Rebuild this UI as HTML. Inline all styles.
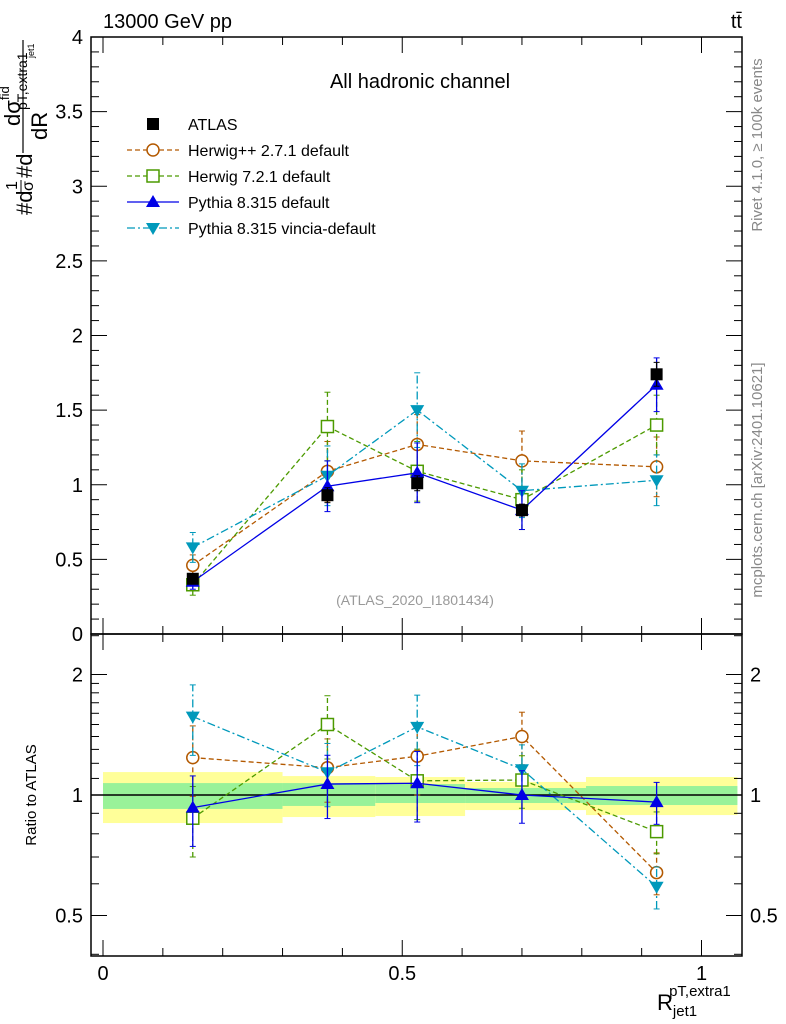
<!DOCTYPE html>
<html><head><meta charset="utf-8"><style>
body{margin:0;background:#fff}
svg{display:block;font-family:"Liberation Sans",sans-serif}
</style></head><body>
<svg id="c" width="786" height="1024" viewBox="0 0 786 1024"></svg>
<script>
const xs=[0.15,0.375,0.525,0.7,0.925];
const atlas=[0.37,0.93,1.01,0.83,1.74];
const atlasErr=[0.03,0.05,0.05,0.04,0.08];
const hpp=[0.46,1.09,1.27,1.16,1.12];
const hppErr=[0.07,0.2,0.2,0.2,0.2];
const h7=[0.33,1.39,1.09,0.90,1.40];
const h7Err=[0.07,0.23,0.2,0.2,0.2];
const py=[0.35,0.99,1.08,0.83,1.67];
const pyErr=[0.05,0.17,0.2,0.13,0.18];
const vin=[0.58,1.06,1.50,0.96,1.03];
const vinErr=[0.1,0.2,0.25,0.18,0.17];
const rHpp=[1.24,1.17,1.25,1.40,0.64];
const rH7=[0.875,1.50,1.085,1.09,0.81];
const rPy=[0.93,1.065,1.07,1.0,0.96];
const rVin=[1.57,1.14,1.48,1.16,0.59];
const rErrFrac=[0.2,0.18,0.2,0.15,0.12];
const binEdges=[0,0.3,0.455,0.605,0.807,1.06];
const yelLo=[0.851,0.881,0.886,0.917,0.891];
const yelHi=[1.141,1.115,1.109,1.078,1.109];
const grnLo=[0.923,0.939,0.955,0.955,0.944];
const grnHi=[1.071,1.071,1.065,1.041,1.053];
const mainTicks=[0,0.5,1,1.5,2,2.5,3,3.5,4];
const ratioTicks=[0.5,1,2];
const xTicks=[0,0.5,1];

const S=document.getElementById('c'),NS='http://www.w3.org/2000/svg';
function mk(t,a,p){const e=document.createElementNS(NS,t);for(const k in a)e.setAttribute(k,a[k]);(p||S).appendChild(e);return e;}
const L=91,R=742,T=37,MB=634,RB=956;
const X=v=>103+v*598.5;
const Y=v=>634-v*149.25;
const YR=v=>795-Math.log2(v)*120.5;

for(let i=0;i<5;i++){
 const b=mk('rect',{x:X(binEdges[i]),y:YR(yelHi[i]),width:X(binEdges[i+1])-X(binEdges[i]),height:YR(yelLo[i])-YR(yelHi[i]),fill:'#ffff99'});
 
 
 const g=mk('rect',{x:X(binEdges[i]),y:YR(grnHi[i]),width:X(binEdges[i+1])-X(binEdges[i]),height:YR(grnLo[i])-YR(grnHi[i]),fill:'#99f299'});
 
 
}
mk('line',{x1:L,x2:R,y1:YR(1),y2:YR(1),stroke:'#000','stroke-width':1.5});

mk('rect',{x:L,y:T,width:R-L,height:MB-T,fill:'none',stroke:'#000','stroke-width':1.5});
mk('rect',{x:L,y:MB,width:R-L,height:RB-MB,fill:'none',stroke:'#000','stroke-width':1.5});

for(let v=0;v<=4.0001;v+=0.1){const maj=Math.abs(v*2-Math.round(v*2))<1e-6;const l=maj?16:8;const y=Y(v);
 mk('line',{x1:L,x2:L+l,y1:y,y2:y,stroke:'#000'});mk('line',{x1:R,x2:R-l,y1:y,y2:y,stroke:'#000'});}
mainTicks.forEach(v=>{const t=mk('text',{x:L-8,y:Y(v)+7,'text-anchor':'end','font-size':20});t.textContent=String(v);
 });
[0.4,0.5,0.6,0.7,0.8,0.9,1,1.1,1.2,1.3,1.4,1.5,1.6,1.7,1.8,1.9,2,2.5].forEach(v=>{const maj=ratioTicks.includes(v);const l=maj?16:8;const y=YR(v);if(y<MB||y>RB)return;
 mk('line',{x1:L,x2:L+l,y1:y,y2:y,stroke:'#000'});mk('line',{x1:R,x2:R-l,y1:y,y2:y,stroke:'#000'});});
ratioTicks.forEach(v=>{const t=mk('text',{x:L-8,y:YR(v)+7,'text-anchor':'end','font-size':20});t.textContent=String(v);
 
 const t2=mk('text',{x:R+8,y:YR(v)+7,'font-size':20});t2.textContent=String(v);
 });
for(let v=0;v<=1.05;v+=0.1){const maj=xTicks.some(t=>Math.abs(t-v)<1e-6);const l=maj?16:8;const x=X(v);
 mk('line',{x1:x,x2:x,y1:MB,y2:MB-l,stroke:'#000'});mk('line',{x1:x,x2:x,y1:MB,y2:MB+l,stroke:'#000'});
 mk('line',{x1:x,x2:x,y1:RB,y2:RB-l,stroke:'#000'});mk('line',{x1:x,x2:x,y1:T,y2:T+l,stroke:'#000'});}
xTicks.forEach(v=>{const t=mk('text',{x:X(v),y:980,'text-anchor':'middle','font-size':20});t.textContent=String(v);
 });

function marker(type,x,y,col,g){
 if(type==='sq')mk('rect',{x:x-6,y:y-6,width:12,height:12,fill:'#000'},g);
 if(type==='osq')mk('rect',{x:x-6,y:y-6,width:12,height:12,fill:'#fff',stroke:col,'stroke-width':1.5},g);
 if(type==='circ')mk('circle',{cx:x,cy:y,r:6,fill:'#fff',stroke:col,'stroke-width':1.5},g);
 if(type==='tri')mk('polygon',{points:`${x},${y-7} ${x-7},${y+5} ${x+7},${y+5}`,fill:col},g);
 if(type==='itri')mk('polygon',{points:`${x},${y+7} ${x-7},${y-5} ${x+7},${y-5}`,fill:col},g);
}
function series(name,vals,errs,yf,col,dash,type,line){
 const g=mk('g',{});
 
 
 if(line)mk('polyline',{points:vals.map((v,i)=>X(xs[i])+','+yf(v)).join(' '),fill:'none',stroke:col,'stroke-width':1.3,'stroke-dasharray':dash},g);
 vals.forEach((v,i)=>{const x=X(xs[i]);
  const lo=yf(v-errs[i]),hi=yf(v+errs[i]);
  mk('line',{x1:x,x2:x,y1:lo,y2:hi,stroke:col,'stroke-width':1.3,'stroke-dasharray':dash},g);
  mk('line',{x1:x-3,x2:x+3,y1:lo,y2:lo,stroke:col},g);mk('line',{x1:x-3,x2:x+3,y1:hi,y2:hi,stroke:col},g);
  marker(type,x,yf(v),col,g);});
}
const cHpp='#b35900',cH7='#4c9a00',cPy='#0000e6',cVin='#0099bb';
series('herwigpp-series',hpp,hppErr,Y,cHpp,'5,3','circ',true);
series('herwig7-series',h7,h7Err,Y,cH7,'5,3','osq',true);
series('vincia-series',vin,vinErr,Y,cVin,'8,3,2,3','itri',true);
series('pythia-series',py,pyErr,Y,cPy,'','tri',true);
series('atlas-series',atlas,atlasErr,Y,'#000','','sq',false);
const re=(a)=>a.map((v,i)=>v*rErrFrac[i]);
series('herwigpp-ratio',rHpp,re(rHpp),YR,cHpp,'5,3','circ',true);
series('herwig7-ratio',rH7,re(rH7),YR,cH7,'5,3','osq',true);
series('vincia-ratio',rVin,re(rVin),YR,cVin,'8,3,2,3','itri',true);
series('pythia-ratio',rPy,re(rPy),YR,cPy,'','tri',true);

const leg=[['ATLAS','#000','','sq'],['Herwig++ 2.7.1 default',cHpp,'5,3','circ'],['Herwig 7.2.1 default',cH7,'5,3','osq'],['Pythia 8.315 default',cPy,'','tri'],['Pythia 8.315 vincia-default',cVin,'8,3,2,3','itri']];
leg.forEach((e,i)=>{const y=124+i*26;const g=mk('g',{});
 
 
 if(i>0)mk('line',{x1:127,x2:179,y1:y,y2:y,stroke:e[1],'stroke-width':1.3,'stroke-dasharray':e[2]},g);
 marker(e[3],153,y,e[1],g);
 const t=mk('text',{x:188,y:y+6,'font-size':16},g);t.textContent=e[0];});

function txt(s,a,name,p){const t=mk('text',a,p);t.textContent=s;return t;}
txt('13000 GeV pp',{x:103,y:28,'font-size':20},'energy-label');
txt('tt̄',{x:742,y:28,'font-size':20,'text-anchor':'end'},'process-label');
txt('All hadronic channel',{x:420,y:88,'font-size':20,'text-anchor':'middle'},'plot-title');
txt('(ATLAS_2020_I1801434)',{x:415,y:605,'font-size':14,'text-anchor':'middle',fill:'#999'},'analysis-id');
txt('Rivet 4.1.0, ≥ 100k events',{x:762,y:145,'font-size':15,fill:'#888','text-anchor':'middle',transform:'rotate(-90 762 145)'},'rivet-label');
txt('mcplots.cern.ch [arXiv:2401.10621]',{x:762,y:480,'font-size':15,fill:'#888','text-anchor':'middle',transform:'rotate(-90 762 480)'},'mcplots-label');
txt('Ratio to ATLAS',{x:36,y:795,'font-size':15,'text-anchor':'middle',transform:'rotate(-90 36 795)'},'ratio-y-title');

// y axis title: rotated group, (u,v) -> (v,-u)
const yg=mk('g',{transform:'rotate(-90)'});


txt('#d',{x:-215,y:32,'font-size':22},'y-title-hash-d',yg);
txt('1',{x:-190,y:17,'font-size':16},'y-title-one',yg);
mk('line',{x1:-192,x2:-180,y1:21,y2:21,stroke:'#000'},yg);
txt('σ',{x:-191,y:33,'font-size':16},'y-title-sigma',yg);
txt('#d',{x:-178,y:32,'font-size':22},'y-title-hash-d2',yg);
mk('line',{x1:-153,x2:-40,y1:23,y2:23,stroke:'#000','stroke-width':1.2},yg);
txt('dσ',{x:-126,y:20,'font-size':22},'y-title-dsigma',yg);
txt('fid',{x:-100,y:9,'font-size':13},'y-title-fid',yg);
txt('pT,extra1',{x:-110,y:27,'font-size':14},'y-title-sub',yg);
txt('jet1',{x:-58,y:34,'font-size':9},'y-title-jet1',yg);
txt('dR',{x:-140,y:47,'font-size':22},'y-title-dR',yg);

const xl=txt('',{x:657,y:1010,'font-size':22},'x-axis-title');
xl.innerHTML='R<tspan font-size="15" dy="6">jet1</tspan><tspan font-size="15" dx="-28" dy="-20">pT,extra1</tspan>';
</script>
</body></html>
